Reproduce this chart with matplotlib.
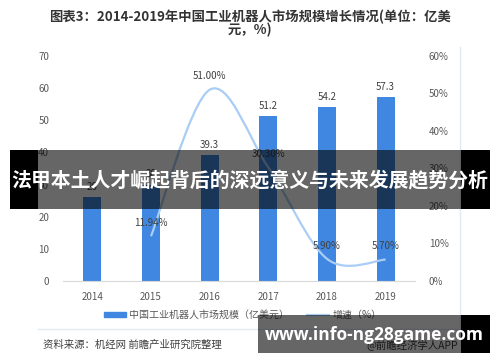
import matplotlib.pyplot as plt
import matplotlib.patches as mpatches
from matplotlib.path import Path
from matplotlib.lines import Line2D

plt.rcParams['font.family'] = ['Noto Sans CJK SC', 'DejaVu Sans']

# data
years = ['2014', '2015', '2016', '2017', '2018', '2019']
scale = [26, 30, 39.3, 51.2, 54.2, 57.3]
growth_years = ['2015', '2016', '2017', '2018', '2019']
growth = [11.94, 51.00, 30.30, 5.90, 5.70]
growth_labels = ['11.94%', '51.00%', '30.30%', '5.90%', '5.70%']

bar_color = '#3f87e0'
line_color = '#a9cdf4'
txt = '#595959'

fig = plt.figure(figsize=(5, 3.62), dpi=100)
fig.patch.set_facecolor('white')
ax = fig.add_axes([0.126, 0.2238, 0.704, 0.6215])

x = list(range(len(years)))
ax.bar(x, scale, width=0.31, color=bar_color, zorder=2)
for xi, v in zip(x, scale):
    ax.text(xi, v + 1.6, f'{v:g}', ha='center', va='bottom', fontsize=7, color='#404040')

ax.set_xlim(-0.5, 5.5)
ax.set_ylim(0, 70)
ax.set_yticks(range(0, 71, 10))
ax.set_xticks(x)
ax.set_xticklabels(years)
ax.tick_params(axis='both', length=0, labelsize=7, colors=txt)
ax.tick_params(axis='y', pad=10)
ax.tick_params(axis='x', pad=8)
for s in ['top', 'right', 'left']:
    ax.spines[s].set_visible(False)
ax.spines['bottom'].set_color('#d9d9d9')
ax.patch.set_alpha(0)

ax2 = ax.twinx()
ax2.set_ylim(0, 60)
ax2.set_yticks(range(0, 61, 10))
ax2.set_yticklabels([f'{v}%' for v in range(0, 61, 10)])
ax2.tick_params(axis='y', length=0, labelsize=7, colors=txt, pad=10)
for s in ax2.spines.values():
    s.set_visible(False)

# smoothed growth line (catmull-rom as cubic bezier, like excel smooth line)
gx = [years.index(y) for y in growth_years]
pts = list(zip(gx, growth))
verts = [pts[0]]
codes = [Path.MOVETO]
n = len(pts)
for i in range(n - 1):
    p0 = pts[i - 1] if i > 0 else pts[i]
    p1 = pts[i]
    p2 = pts[i + 1]
    p3 = pts[i + 2] if i + 2 < n else pts[i + 1]
    c1 = (p1[0] + (p2[0] - p0[0]) / 6, p1[1] + (p2[1] - p0[1]) / 6)
    c2 = (p2[0] - (p3[0] - p1[0]) / 6, p2[1] - (p3[1] - p1[1]) / 6)
    verts += [c1, c2, p2]
    codes += [Path.CURVE4] * 3
ax2.add_patch(mpatches.PathPatch(Path(verts, codes), fill=False, edgecolor=line_color,
                                 lw=1.6, zorder=3))
for xi, v, lab in zip(gx, growth, growth_labels):
    ax2.text(xi, v + 2.2, lab, ha='center', va='bottom', fontsize=7, color='#404040')

# title
fig.text(0.5, 0.952, '图表3：2014-2019年中国工业机器人市场规模增长情况(单位：亿美',
         ha='center', va='center', fontsize=9.6, fontweight='bold', color='#333333')
fig.text(0.5, 0.916, '元，%)', ha='center', va='center', fontsize=9.6,
         fontweight='bold', color='#333333')

# legend
handles = [mpatches.Patch(color=bar_color, label='中国工业机器人市场规模（亿美元）'),
           Line2D([], [], color=line_color, lw=1.6, label='增速（%）')]
fig.legend(handles=handles, loc='center', bbox_to_anchor=(0.486, 0.13), ncol=2,
           frameon=False, fontsize=7.2, labelcolor=txt, handlelength=2.2,
           handleheight=0.5, columnspacing=1.8, handletextpad=0.3)

# frame lines of the original picture
fig.add_artist(Line2D([38 / 500, 460 / 500], [1 - 329 / 362] * 2, color='#e3e9f0', lw=1))
fig.add_artist(Line2D([460 / 500] * 2, [1 - 47 / 362, 1 - 329 / 362], color='#e3e9f0', lw=1))

fig.text(43 / 500, 1 - 345 / 362, '资料来源：机经网 前瞻产业研究院整理', ha='left', va='center',
         fontsize=7.5, color='#404040')
fig.text(458 / 500, 1 - 345 / 362, '@前瞻经济学人APP', ha='right', va='center',
         fontsize=7.5, color='#404040')

# overlay banners
def banner(x0, x1, y0, y1, inner_x1):
    W, H = 500, 362
    fig.add_artist(mpatches.Rectangle((x0 / W, 1 - y1 / H), (inner_x1 - x0) / W, (y1 - y0) / H,
                                      transform=fig.transFigure, facecolor='black', alpha=0.6,
                                      edgecolor='none', zorder=10))
    fig.add_artist(mpatches.Rectangle((inner_x1 / W, 1 - y1 / H), (x1 - inner_x1) / W, (y1 - y0) / H,
                                      transform=fig.transFigure, facecolor='black',
                                      edgecolor='none', zorder=10))

fig.add_artist(mpatches.Rectangle((10 / 500, 1 - 209 / 362), 28 / 500, 59 / 362,
                                  transform=fig.transFigure, facecolor='black',
                                  edgecolor='none', zorder=10))
banner(38, 490, 150, 209, 461)
fig.text(0.5, 1 - 180 / 362, '法甲本土人才崛起背后的深远意义与未来发展趋势分析', ha='center',
         va='center', fontsize=14.3, fontweight='bold', color='white', zorder=11)

banner(258, 490, 315, 353, 461)
fig.text(374 / 500, 1 - 335 / 362, 'www.info-ng28game.com', ha='center', va='center',
         fontsize=12.5, fontweight='bold', color='white', zorder=11,
         family=['Open Sans', 'DejaVu Sans'])

fig.savefig('out.png', dpi=100)
